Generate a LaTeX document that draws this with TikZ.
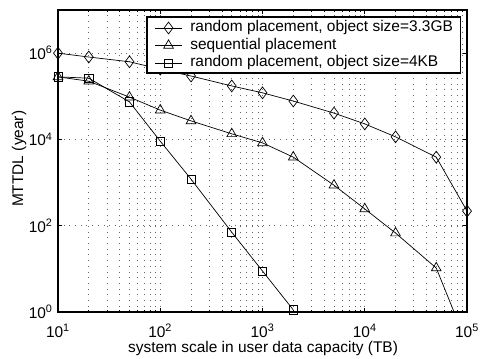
\documentclass[tikz,border=0pt]{standalone}
\usepackage{fontspec}
\setmainfont{Liberation Sans}
\usetikzlibrary{plotmarks}

\begin{document}
\begin{tikzpicture}[x=2.556cm,y=1.0785cm,font=\fontsize{11}{13}\selectfont]
\tikzset{grid dots/.style={black!60,line width=0.4pt,dash pattern=on 0.45pt off 3.6pt},
  curve/.style={line width=0.5pt},
  frame/.style={line width=0.8pt},
  diamond mk/.style={mark=diamond,mark size=4.2pt},
  triangle mk/.style={mark=triangle,mark size=4pt},
  square mk/.style={mark=square,mark size=2.9pt}}
% keep the margins of the page
\useasboundingbox (0.4328,-1.066) rectangle (5.127,7.232);
% Draw the grid
\foreach \d in {1,2,3,4} {
  \foreach \m in {2,...,9} {
    \draw[grid dots] ({\d+log10(\m)},0) -- ({\d+log10(\m)},7);
  }
}
\foreach \d in {2,3,4} { \draw[grid dots] (\d,0) -- (\d,7); }
\foreach \y in {2,4,6} { \draw[grid dots] (1,\y) -- (5,\y); }
% the co-ordinates -- major
\foreach \d in {1,...,5} {     % for x-axis
  \draw (\d,0) -- ++(0,0.1cm);
  \draw (\d,7) -- ++(0,-0.1cm);
}
\foreach \y in {0,2,4,6} {   %% for y-axis
  \draw (1,\y) -- ++(0.1cm,0);
  \draw (5,\y) -- ++(-0.1cm,0);
}
% the co-ordinates -- minor
\foreach \d in {1,2,3,4} {
  \foreach \m in {2,...,9} {
    \draw ({\d+log10(\m)},0) -- ++(0,0.06cm);
    \draw ({\d+log10(\m)},7) -- ++(0,-0.06cm);
  }
}
% the numbers
\foreach \d in {1,...,5} { \node [anchor=base,inner sep=0pt] (xt\d) at (\d,-0.59) {10\textsuperscript{\d}}; }
\foreach \y in {0,2,4,6} { \node [anchor=base east,inner sep=0pt] (yt\y) at (0.951,\y-0.146) {10\textsuperscript{\y}}; }
% axis labels
\node [anchor=base,inner sep=0pt] (xlabel) at (3.005,-0.927) {system scale in user data capacity (TB)};
\node [anchor=base,rotate=90,inner sep=0pt] (ylabel) at (0.658,3.55) {MTTDL (year)};
% the curves
\begin{scope}
\clip (1,0) rectangle (5,7);
\draw[curve] plot coordinates {(1,6.00) (1.301,5.91) (1.699,5.80) (2,5.63) (2.301,5.47) (2.699,5.24)
  (3,5.08) (3.301,4.89) (3.699,4.61) (4,4.36) (4.301,4.06) (4.699,3.59) (5,2.34)};
\draw[curve] plot coordinates {(1,5.45) (1.301,5.35) (1.699,4.98) (2,4.68) (2.301,4.43) (2.699,4.13)
  (3,3.92) (3.301,3.59) (3.699,2.94) (4,2.39) (4.301,1.83) (4.699,1.02) (5,-0.74)};
\draw[curve] plot coordinates {(1,5.45) (1.301,5.42) (1.699,4.87) (2,3.96) (2.301,3.08) (2.699,1.85)
  (3,0.95) (3.301,0.05)};
\end{scope}
\draw[curve] plot[only marks,diamond mk] coordinates {(1,6.00) (1.301,5.91) (1.699,5.80) (2,5.63) (2.301,5.47) (2.699,5.24)
  (3,5.08) (3.301,4.89) (3.699,4.61) (4,4.36) (4.301,4.06) (4.699,3.59) (5,2.34)};
\draw[curve] plot[only marks,triangle mk] coordinates {(1,5.45) (1.301,5.35) (1.699,4.98) (2,4.68) (2.301,4.43) (2.699,4.13)
  (3,3.92) (3.301,3.59) (3.699,2.94) (4,2.39) (4.301,1.83) (4.699,1.02)};
\draw[curve] plot[only marks,square mk] coordinates {(1,5.45) (1.301,5.42) (1.699,4.87) (2,3.96) (2.301,3.08) (2.699,1.85)
  (3,0.95) (3.301,0.05)};
% Draw axes box
\draw[frame] (1,0) rectangle (5,7);
% the legend
\draw[frame,fill=white] (1.870,5.540) rectangle (4.932,6.838);
\draw[curve] (1.949,6.583) -- (2.213,6.583);
\draw[curve] plot[only marks,diamond mk] coordinates {(2.081,6.583)};
\node [anchor=mid west,inner sep=0pt] (leg1) at (2.291,6.583) {random placement, object size=3.3GB};
\draw[curve] (1.949,6.178) -- (2.213,6.178);
\draw[curve] plot[only marks,triangle mk] coordinates {(2.081,6.178)};
\node [anchor=mid west,inner sep=0pt] (leg2) at (2.291,6.178) {sequential placement};
\draw[curve] (1.949,5.772) -- (2.213,5.772);
\draw[curve] plot[only marks,square mk] coordinates {(2.081,5.772)};
\node [anchor=mid west,inner sep=0pt] (leg3) at (2.291,5.772) {random placement, object size=4KB};
\end{tikzpicture}
\end{document}
